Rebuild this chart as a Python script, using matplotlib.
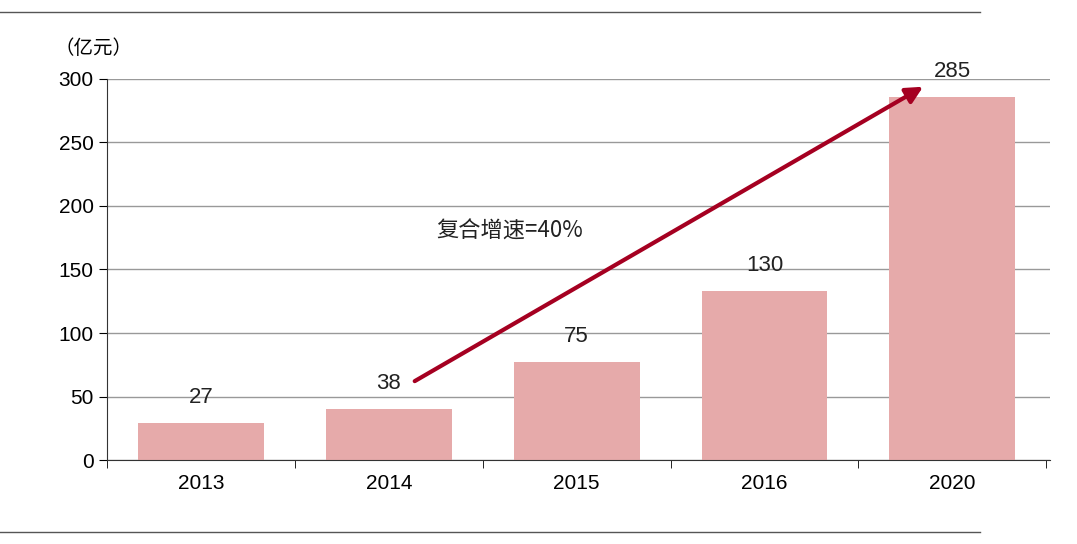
import matplotlib
matplotlib.use("Agg")
import matplotlib.pyplot as plt
import numpy as np

plt.rcParams["font.family"] = ["Liberation Sans", "Noto Sans CJK SC"]

years = ["2013", "2014", "2015", "2016", "2020"]
values = [27, 38, 75, 130, 285]
bar_heights = [29, 40, 77, 133, 286]   # drawn height (slightly above label values)
yticks = [0, 50, 100, 150, 200, 250, 300]

fig = plt.figure(figsize=(10.77, 5.44), dpi=100)
ax = fig.add_axes([0.0994, 0.1544, 0.8756, 0.7004])

x = np.arange(len(years))
ax.bar(x, bar_heights, width=0.67, color="#E6AAAA", zorder=2)
for xi, v, h in zip(x, values, bar_heights):
    ax.text(xi, h + 12, str(v), ha="center", va="bottom", fontsize=16, color="#222222")

ax.set_xlim(-0.48, 4.52)
ax.set_ylim(0, 300)
ax.set_yticks(yticks)
ax.set_yticklabels([str(t) for t in yticks], fontsize=15)
ax.set_xticks(x)
ax.set_xticklabels(years, fontsize=15)
ax.set_xticks(np.arange(-0.5, 4.6, 1), minor=True)
ax.tick_params(axis="x", which="major", length=0, pad=10)
ax.tick_params(axis="x", which="minor", length=6, direction="out")
ax.tick_params(axis="y", length=6, direction="out")
ax.grid(axis="y", color="#999999", linewidth=1, zorder=0)
for s in ["top", "right"]:
    ax.spines[s].set_visible(False)
ax.spines["left"].set_color("#333333")
ax.spines["bottom"].set_color("#333333")

ax.annotate("", xy=(3.857, 295), xytext=(1.125, 61),
            arrowprops=dict(arrowstyle="-|>", color="#A50021", lw=3,
                            mutation_scale=25), zorder=3)
ax.text(1.25, 175, "复合增速=40%", fontsize=16, color="#222222",
        family="Noto Sans CJK SC")

fig.text(55 / 1077, 1 - 48 / 544, "（亿元）", fontsize=14, va="center", ha="left",
         family="Noto Sans CJK SC")
fig.add_artist(plt.Line2D([0, 980 / 1077], [1 - 12 / 544] * 2, color="#555555", lw=1))
fig.add_artist(plt.Line2D([0, 980 / 1077], [1 - 532 / 544] * 2, color="#555555", lw=1))

fig.savefig("out.png", dpi=100, facecolor="white")
